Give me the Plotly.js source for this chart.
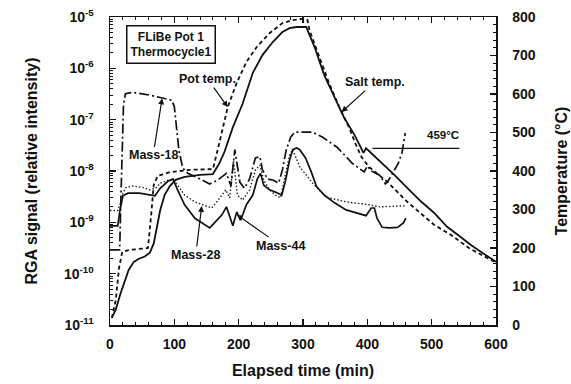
<!DOCTYPE html>
<html><head><meta charset="utf-8">
<script src="https://cdn.plot.ly/plotly-3.0.1.min.js"></script>
<style>html,body{margin:0;padding:0;background:#fff}#chart{width:571px;height:384px}</style>
</head><body><div id="chart"></div>
<script>
// Salt temperature (solid, right axis, degC)
const saltTime = [3, 9, 16, 23, 29, 37, 45, 54, 62, 68, 73, 78, 85, 93, 102, 116, 140, 160, 170, 178, 191, 206, 222, 237, 253, 268, 279, 290, 305, 318, 333, 349, 364, 380, 394, 398, 419, 442, 465, 484, 504, 524, 543, 561, 581, 600];
const saltTemp = [20, 40, 80, 117, 143, 164, 172, 178, 188, 212, 255, 298, 338, 361, 377, 385, 390, 392, 420, 450, 514, 574, 655, 701, 735, 761, 771, 774, 774, 722, 649, 590, 538, 494, 447, 459, 426, 390, 351, 320, 291, 255, 231, 208, 185, 164];
// Pot temperature (dashed, right axis, degC)
const potTime = [3, 9, 14, 19, 31, 59, 64, 68, 74, 93, 124, 160, 170, 183, 197, 212, 228, 248, 268, 284, 299, 307, 310, 326, 341, 357, 372, 381, 391, 403, 431, 462, 504, 530, 558, 581, 600];
const potTemp = [18, 65, 148, 190, 195, 200, 286, 364, 387, 397, 403, 405, 473, 566, 629, 683, 722, 758, 784, 792, 795, 792, 766, 694, 626, 564, 512, 473, 436, 410, 372, 320, 260, 234, 200, 179, 162];
// Mass-18 (left axis, relative intensity)
const m18Time = [0, 15, 17, 19, 21, 24, 36, 62, 81, 96, 100, 103, 107, 113, 121, 140, 155, 167, 181, 188, 194, 202, 209, 217, 226, 233, 237, 245, 254, 262, 268, 274, 281, 287, 315, 330, 353, 377, 395, 400, 406, 419, 428, 433, 440, 448, 454, 457, 459];
const m18Val = [2.9e-10, 2.9e-10, 3e-9, 4e-8, 2e-7, 3.2e-7, 3.4e-7, 3.0e-7, 2.6e-7, 2.4e-7, 1.8e-7, 7.9e-8, 2.6e-8, 1.15e-8, 9e-9, 7e-9, 5.6e-9, 6.6e-9, 9e-9, 5.1e-9, 2.6e-8, 6e-9, 4.6e-9, 7e-9, 1.8e-8, 1.9e-8, 1.05e-8, 7e-9, 6.6e-9, 5.8e-9, 1.05e-8, 2.6e-8, 4.6e-8, 5.7e-8, 5.7e-8, 4.6e-8, 2.9e-8, 1.4e-8, 9.6e-9, 1.25e-8, 1e-8, 8.3e-9, 5.6e-9, 6.6e-9, 9.6e-9, 1.4e-8, 2.3e-8, 3.7e-8, 5.5e-8];
// Mass-28 (dotted, left axis)
const m28Time = [0, 12, 16, 19, 24, 35, 50, 62, 71, 78, 90, 98, 104, 116, 132, 147, 158, 167, 180, 186, 192, 198, 206, 217, 226, 233, 239, 248, 257, 265, 271, 279, 284, 295, 315, 336, 367, 403, 419, 459];
const m28Val = [1.7e-9, 1.7e-9, 2.3e-9, 3.4e-9, 4.7e-9, 5.1e-9, 4.8e-9, 4.3e-9, 4.6e-9, 5.8e-9, 6.6e-9, 6.8e-9, 5.5e-9, 3.4e-9, 2.5e-9, 2.1e-9, 1.9e-9, 2.6e-9, 4.3e-9, 3e-9, 1.6e-8, 3.4e-9, 2.7e-9, 4.3e-9, 1.05e-8, 1.3e-8, 6.6e-9, 4.3e-9, 3.4e-9, 3.0e-9, 6.6e-9, 2e-8, 2.6e-8, 1.2e-8, 5.8e-9, 3.1e-9, 2.5e-9, 2.2e-9, 2.0e-9, 2.1e-9];
// Mass-44 (left axis)
const m44Time = [0, 12, 15.5, 20, 28, 46, 70, 78, 90, 98, 105, 116, 132, 147, 155, 163, 174, 181, 191, 197, 203, 212, 222, 229, 234, 239, 248, 257, 267, 273, 279, 284, 290, 295, 304, 313, 321, 333, 349, 367, 388, 398, 406, 411, 415, 423, 434, 447, 456, 460];
const m44Val = [8.5e-10, 8.5e-10, 1.7e-9, 3.3e-9, 3.7e-9, 3.7e-9, 3.3e-9, 4.6e-9, 6.3e-9, 7e-9, 4.3e-9, 2.2e-9, 1.2e-9, 8.9e-10, 7.8e-10, 1e-9, 1.4e-9, 2e-9, 8.6e-10, 1.6e-9, 1.1e-9, 2.2e-9, 3.4e-9, 7e-9, 9e-9, 5.3e-9, 4.3e-9, 3.9e-9, 3.4e-9, 6.6e-9, 1.6e-8, 2.6e-8, 2.8e-8, 2.6e-8, 1.8e-8, 9.5e-9, 5e-9, 3.4e-9, 2.4e-9, 1.75e-9, 1.5e-9, 1.35e-9, 1.9e-9, 1.9e-9, 1.2e-9, 8e-10, 7.8e-10, 8e-10, 9.7e-10, 1.2e-9];
// 459 degC reference line
const refTime = [408, 543];
const refTemp = [459, 459];
// tick labels
const logTickVals = [1e-11, 1e-10, 1e-9, 1e-8, 1e-7, 1e-6, 1e-5];
const logTickText = ['10<sup>-11</sup>', '10<sup>-10</sup>', '10<sup>-9</sup>', '10<sup>-8</sup>', '10<sup>-7</sup>', '10<sup>-6</sup>', '10<sup>-5</sup>'];
const logMinorVals = [];
for (let d = -11; d < -5; d++) { for (let k = 2; k <= 9; k++) logMinorVals.push(k * Math.pow(10, d)); }

const FONT = 'Liberation Sans, Arial, Helvetica, sans-serif';
const K = '#111';
const traces = [
  {x: m28Time, y: m28Val, yaxis: 'y', type: 'scatter', mode: 'lines', line: {color: '#222', width: 1.4, dash: '1.5px,2px'}},
  {x: m44Time, y: m44Val, yaxis: 'y', type: 'scatter', mode: 'lines', line: {color: K, width: 1.7}},
  {x: m18Time, y: m18Val, yaxis: 'y', type: 'scatter', mode: 'lines', line: {color: K, width: 1.7, dash: '10px,3px,2px,3px'}},
  {x: saltTime, y: saltTemp, yaxis: 'y2', type: 'scatter', mode: 'lines', line: {color: K, width: 1.8}},
  {x: potTime, y: potTemp, yaxis: 'y2', type: 'scatter', mode: 'lines', line: {color: K, width: 1.8, dash: '4px,3px'}},
  {x: refTime, y: refTemp, yaxis: 'y2', type: 'scatter', mode: 'lines', line: {color: K, width: 1.2}}
];
const tf = {family: FONT, size: 14, color: K, weight: 'bold'};
const titleF = {family: FONT, size: 16, color: K, weight: 'bold'};
const annF = {family: FONT, size: 12.5, color: K, weight: 'bold'};
function arrowAnn(text, x, y, yref, ax, ay) {
  return {text: text, x: x, y: y, xref: 'x', yref: yref, ax: ax, ay: ay, showarrow: true,
    arrowhead: 2, arrowsize: 1, arrowwidth: 1.2, arrowcolor: K, font: annF};
}
const layout = {
  width: 571, height: 384,
  margin: {l: 110, r: 75, t: 17, b: 59},
  paper_bgcolor: '#fff', plot_bgcolor: '#fff',
  showlegend: false,
  font: {family: FONT, color: K},
  xaxis: {range: [0, 600], tick0: 0, dtick: 100, ticks: 'inside', ticklen: 6, tickwidth: 1.2, tickcolor: K,
    minor: {ticks: 'inside', dtick: 20, ticklen: 3, tickwidth: 1, tickcolor: K},
    showline: true, linewidth: 1.5, linecolor: K, mirror: 'ticks', showgrid: false, zeroline: false,
    tickfont: tf, ticklabelstandoff: 6,
    title: {text: 'Elapsed time (min)', font: titleF, standoff: 13}},
  yaxis: {type: 'log', range: [-11, -5], tickmode: 'array', tickvals: logTickVals, ticktext: logTickText,
    ticks: 'inside', ticklen: 6, tickwidth: 1.2, tickcolor: K,
    minor: {ticks: 'inside', tickmode: 'array', tickvals: logMinorVals, ticklen: 3, tickwidth: 1, tickcolor: K},
    showline: true, linewidth: 1.5, linecolor: K, showgrid: false, zeroline: false,
    tickfont: tf, ticklabelstandoff: 12,
    title: {text: 'RGA signal (relative intensity)', font: titleF, standoff: 22}},
  yaxis2: {overlaying: 'y', side: 'right', range: [0, 800], tick0: 0, dtick: 100,
    ticks: 'inside', ticklen: 6, tickwidth: 1.2, tickcolor: K,
    minor: {ticks: 'inside', dtick: 20, ticklen: 3, tickwidth: 1, tickcolor: K},
    showline: true, linewidth: 1.5, linecolor: K, showgrid: false, zeroline: false,
    tickfont: tf, ticklabelstandoff: 12,
    title: {text: 'Temperature (°C)', font: titleF, standoff: 21}},
  annotations: [
    {text: 'FLiBe Pot 1<br>Thermocycle1', xref: 'paper', yref: 'paper', x: 0.158, y: 0.912,
      xanchor: 'center', yanchor: 'middle',
      showarrow: false, bordercolor: K, borderwidth: 1.5, borderpad: 3, bgcolor: '#fff',
      font: {family: FONT, size: 12, color: K, weight: 'bold'}},
    arrowAnn('Pot temp.', 183, 566, 'y2', -20, -28),
    arrowAnn('Mass-18', 81, Math.log10(2.6e-7), 'y', -9, 57),
    arrowAnn('Salt temp.', 360, 553, 'y2', 33, -30),
    arrowAnn('Mass-28', 142.6, -8.68, 'y', -6, 49),
    arrowAnn('Mass-44', 197, -8.85, 'y', 44, 31),
    {text: '459°C', xref: 'x', yref: 'y2', x: 518, y: 494, showarrow: false,
      font: {family: FONT, size: 11.5, color: K, weight: 'bold'}}
  ]
};
Plotly.newPlot('chart', traces, layout, {staticPlot: true, displayModeBar: false});
</script>
</body></html>
